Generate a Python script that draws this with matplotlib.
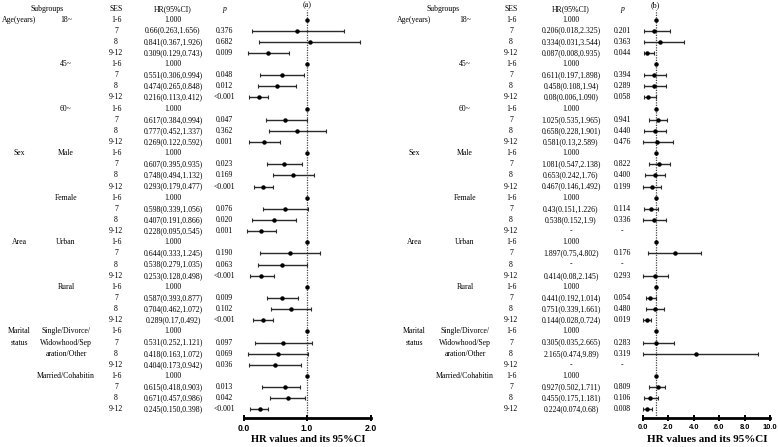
import numpy as np
import matplotlib
matplotlib.use("Agg")
import matplotlib.pyplot as plt
from matplotlib.ticker import FormatStrFormatter

nan = np.nan

# ---------------- data ----------------
level1 = [("Age(years)", 0), ("Sex", 12), ("Area", 20), ("Marital\nstatus", 28)]
level2 = [("18~", 0), ("45~", 4), ("60~", 8), ("Male", 12), ("Female", 16),
          ("Urban", 20), ("Rural", 24),
          ("Single/Divorce/\nWidowhood/Sep\naration/Other", 28),
          ("Married/Cohabitin", 32)]
ses = ["1-6", "7", "8", "9-12"] * 9

a_hr_text = [
    "1.000", "0.66(0.263,1.656)", "0.841(0.367,1.926)", "0.309(0.129,0.743)",
    "1.000", "0.551(0.306,0.994)", "0.474(0.265,0.848)", "0.216(0.113,0.412)",
    "1.000", "0.617(0.384,0.994)", "0.777(0.452,1.337)", "0.269(0.122,0.592)",
    "1.000", "0.607(0.395,0.935)", "0.748(0.494,1.132)", "0.293(0.179,0.477)",
    "1.000", "0.598(0.339,1.056)", "0.407(0.191,0.866)", "0.228(0.095,0.545)",
    "1.000", "0.644(0.333,1.245)", "0.538(0.279,1.035)", "0.253(0.128,0.498)",
    "1.000", "0.587(0.393,0.877)", "0.704(0.462,1.072)", "0.289(0.17,0.492)",
    "1.000", "0.531(0.252,1.121)", "0.418(0.163,1.072)", "0.404(0.173,0.942)",
    "1.000", "0.615(0.418,0.903)", "0.671(0.457,0.986)", "0.245(0.150,0.398)",
]
a_p = [
    "", "0.376", "0.682", "0.009",
    "", "0.048", "0.012", "<0.001",
    "", "0.047", "0.362", "0.001",
    "", "0.023", "0.169", "<0.001",
    "", "0.076", "0.020", "0.001",
    "", "0.190", "0.063", "<0.001",
    "", "0.009", "0.102", "<0.001",
    "", "0.097", "0.069", "0.036",
    "", "0.013", "0.042", "<0.001",
]
# plotted markers (as drawn in the figure)
a_pt = [1.0, 0.85, 1.04, 0.39, 1.0, 0.61, 0.52, 0.24, 1.0, 0.66, 0.85, 0.33,
        1.0, 0.64, 0.78, 0.31, 1.0, 0.66, 0.48, 0.28, 1.0, 0.74, 0.61, 0.28,
        1.0, 0.61, 0.75, 0.31, 1.0, 0.62, 0.54, 0.50, 1.0, 0.66, 0.70, 0.26]
a_lo = [nan, 0.14, 0.24, 0.07, nan, 0.26, 0.23, 0.09, nan, 0.35, 0.40, 0.08,
        nan, 0.37, 0.47, 0.16, nan, 0.30, 0.14, 0.05, nan, 0.26, 0.23, 0.10,
        nan, 0.37, 0.43, 0.15, nan, 0.18, 0.07, 0.09, nan, 0.29, 0.42, 0.11]
a_hi = [nan, 1.58, 1.84, 0.71, nan, 0.96, 0.82, 0.39, nan, 1.00, 1.30, 0.57,
        nan, 0.92, 1.11, 0.47, nan, 1.02, 0.83, 0.51, nan, 1.20, 1.00, 0.48,
        nan, 0.86, 1.06, 0.47, nan, 1.08, 1.01, 0.90, nan, 0.89, 0.97, 0.38]

b_hr_text = [
    "1.000", "0.206(0.018,2.325)", "0.334(0.031,3.544)", "0.087(0.008,0.935)",
    "1.000", "0.611(0.197,1.898)", "0.458(0.108,1.94)", "0.08(0.006,1.090)",
    "1.000", "1.025(0.535,1.965)", "0.658(0.228,1.901)", "0.581(0.13,2.589)",
    "1.000", "1.081(0.547,2.138)", "0.653(0.242,1.76)", "0.467(0.146,1.492)",
    "1.000", "0.43(0.151,1.226)", "0.538(0.152,1.9)", "-",
    "1.000", "1.897(0.75,4.802)", "-", "0.414(0.08,2.145)",
    "1.000", "0.441(0.192,1.014)", "0.751(0.339,1.661)", "0.144(0.028,0.724)",
    "1.000", "0.305(0.035,2.665)", "2.165(0.474,9.89)", "-",
    "1.000", "0.927(0.502,1.711)", "0.455(0.175,1.181)", "0.224(0.074,0.68)",
]
b_p = [
    "", "0.201", "0.363", "0.044",
    "", "0.394", "0.289", "0.058",
    "", "0.941", "0.440", "0.476",
    "", "0.822", "0.400", "0.199",
    "", "0.114", "0.336", "-",
    "", "0.176", "-", "0.293",
    "", "0.054", "0.480", "0.019",
    "", "0.283", "0.319", "-",
    "", "0.809", "0.106", "0.008",
]
b_pt = [1.0, 0.90, 1.30, 0.34, 1.0, 0.90, 0.90, 0.40, 1.0, 1.15, 0.92, 1.10,
        1.0, 1.26, 0.92, 0.70, 1.0, 0.60, 0.90, nan, 1.0, 2.49, nan, 0.92,
        1.0, 0.58, 0.92, 0.31, 1.0, 1.00, 4.16, nan, 1.0, 1.15, 0.58, 0.34]
b_lo = [nan, 0.05, 0.05, 0.05, nan, 0.05, 0.05, 0.05, nan, 0.47, 0.08, 0.00,
        nan, 0.47, 0.13, 0.00, nan, 0.10, 0.00, nan, nan, 0.39, nan, 0.00,
        nan, 0.20, 0.24, 0.00, nan, 0.00, 0.00, nan, nan, 0.47, 0.05, 0.00]
b_hi = [nan, 2.10, 3.25, 0.90, nan, 1.78, 1.83, 1.00, nan, 1.91, 1.80, 2.40,
        nan, 2.10, 1.70, 1.44, nan, 1.18, 1.80, nan, nan, 4.58, nan, 2.00,
        nan, 1.00, 1.62, 0.65, nan, 2.43, 9.03, nan, nan, 1.70, 1.15, 0.68]

# ---------------- layout ----------------
W, H = 778, 447
fig = plt.figure(figsize=(W / 100, H / 100), dpi=100)
SERIF = "Liberation Serif"
FS = 5.6
ROW0, DROW = 19.5, 11.14
AX_TOP, AX_BOT = 10, 418

def row_y(i):
    return ROW0 + DROW * i

tax = fig.add_axes([0, 0, 1, 1])
tax.set_xlim(0, W)
tax.set_ylim(H, 0)
tax.axis("off")

def draw_panel(xs, hr_text, p_text, pt, lo, hi, xmax, ticks, x0px, x1px,
               tag, tick_fs, xlab_fs):
    x_l1, x_l2, x_ses, x_hr, x_p, x_sub = xs
    kw = dict(fontfamily=SERIF, fontsize=FS, va="center", ha="center")
    tax.text(x_sub, row_y(0) - 10.3, "Subgroups", **kw)
    tax.text(x_ses, row_y(0) - 10.3, "SES", **kw)
    tax.text(x_hr, row_y(0) - 10.3, "HR(95%CI)", **kw)
    tax.text(x_p, row_y(0) - 10.3, "p", style="italic", **kw)
    for lab, r in level1:
        for k, line in enumerate(lab.split("\n")):
            tax.text(x_l1, row_y(r + k), line, **kw)
    for lab, r in level2:
        for k, line in enumerate(lab.split("\n")):
            tax.text(x_l2, row_y(r + k), line, **kw)
    for i in range(len(ses)):
        tax.text(x_ses, row_y(i), ses[i], **kw)
        tax.text(x_hr, row_y(i), hr_text[i], **kw)
        if p_text[i]:
            tax.text(x_p, row_y(i), p_text[i], **kw)

    ax = fig.add_axes([x0px / W, (H - AX_BOT) / H, (x1px - x0px) / W,
                       (AX_BOT - AX_TOP) / H])
    ax.set_facecolor("none")
    ax.set_xlim(0, xmax)
    ax.set_ylim((AX_BOT - ROW0) / DROW, (AX_TOP - ROW0) / DROW)
    rows = np.arange(len(pt))
    pt_a, lo_a, hi_a = np.array(pt), np.array(lo), np.array(hi)
    m = ~np.isnan(lo_a)
    ax.errorbar(pt_a[m], rows[m], xerr=[pt_a[m] - lo_a[m], hi_a[m] - pt_a[m]],
                fmt="none", ecolor="#2a2a2a", elinewidth=1.0, capsize=1.6,
                capthick=0.8, clip_on=False, zorder=3)
    mp = ~np.isnan(pt_a)
    ax.plot(pt_a[mp], rows[mp], "o", color="black", ms=2.2, zorder=4,
            clip_on=False)
    ax.axvline(1.0, color="#444444", ls=(0, (1.0, 1.0)), lw=0.9, zorder=1)
    for s in ["top", "right", "left"]:
        ax.spines[s].set_visible(False)
    ax.spines["bottom"].set_linewidth(2.0)
    ax.set_yticks([])
    ax.set_xticks(ticks)
    ax.xaxis.set_major_formatter(FormatStrFormatter("%.1f"))
    ax.tick_params(axis="x", direction="inout", length=5, width=1.4, pad=1.5)
    for t in ax.get_xticklabels():
        t.set_fontfamily("Liberation Sans")
        t.set_fontweight("bold")
        t.set_fontsize(tick_fs)
    tax.text((x0px + x1px) / 2 + 1, 440, "HR values and its 95%CI",
             fontfamily=SERIF, fontweight="bold", fontsize=xlab_fs,
             ha="center", va="center")
    tax.text(x0px + (x1px - x0px) * 1.0 / xmax, 5.5, tag, fontfamily=SERIF,
             fontsize=FS + 0.3, ha="center", va="center")

draw_panel((19, 66, 116, 173, 224, 47), a_hr_text, a_p, a_pt, a_lo, a_hi,
           2.0, [0, 1, 2], 243.5, 370.5, "(a)", 6.3, 7.6)
draw_panel((414, 465, 511, 571, 622, 443), b_hr_text, b_p, b_pt, b_lo, b_hi,
           10.0, [0, 2, 4, 6, 8, 10], 643, 770, "(b)", 5.4, 8.0)

fig.savefig("out.png", dpi=100)
